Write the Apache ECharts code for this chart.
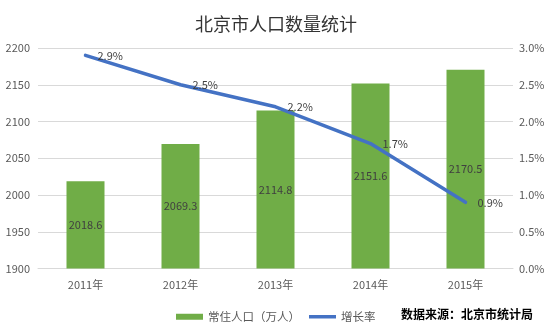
<!DOCTYPE html>
<html>
<head>
<meta charset="utf-8">
<script src="https://cdn.jsdelivr.net/npm/echarts@6/dist/echarts.min.js"></script>
<style>html,body{margin:0;padding:0;background:#fff;}#c{width:552px;height:328px;}</style>
</head>
<body>
<div id="c"></div>
<script>
const categories = ['2011年', '2012年', '2013年', '2014年', '2015年'];
const population = [2018.6, 2069.3, 2114.8, 2151.6, 2170.5];
const growthRate = [2.9, 2.5, 2.2, 1.7, 0.9];
const titleText = '北京市人口数量统计';
const seriesNames = ['常住人口（万人）', '增长率'];
const sourceText = '数据来源：北京市统计局';

const FONT = '"Noto Sans CJK SC", "Noto Sans", sans-serif';
const chart = echarts.init(document.getElementById('c'), null, {renderer: 'canvas'});
chart.setOption({
  animation: false,
  backgroundColor: '#fff',
  textStyle: {fontFamily: FONT},
  title: {
    text: titleText, left: 'center', top: 10,
    textStyle: {fontSize: 18, fontWeight: 'normal', color: '#333', fontFamily: FONT}
  },
  grid: {left: 38, right: 39, top: 48, bottom: 59.5, containLabel: false},
  legend: {
    left: 171, top: 306, itemWidth: 27, itemHeight: 6, itemGap: 9,
    textStyle: {fontSize: 11.5, color: '#595959', fontFamily: FONT},
    data: [
      {name: seriesNames[0], icon: 'rect'},
      {name: seriesNames[1], icon: 'path://M0,0 L27,0 L27,3.5 L0,3.5 Z'}
    ]
  },
  graphic: [{
    type: 'text', left: 401, top: 308,
    style: {text: sourceText, fontSize: 12, fontWeight: 'bold', fill: '#000', fontFamily: FONT}
  }],
  xAxis: {
    type: 'category', data: categories,
    axisLine: {lineStyle: {color: '#d9d9d9'}},
    axisTick: {show: false},
    axisLabel: {color: '#595959', fontSize: 11, margin: 11, fontFamily: FONT}
  },
  yAxis: [{
    type: 'value', min: 1900, max: 2200, interval: 50,
    axisLine: {show: false}, axisTick: {show: false},
    axisLabel: {color: '#595959', fontSize: 11, margin: 8, fontFamily: FONT,
      formatter: v => String(v)},
    splitLine: {lineStyle: {color: '#d9d9d9'}}
  }, {
    type: 'value', min: 0, max: 3, interval: 0.5,
    axisLine: {show: false}, axisTick: {show: false},
    axisLabel: {color: '#595959', fontSize: 11, margin: 6, fontFamily: FONT,
      formatter: v => v.toFixed(1) + '%'},
    splitLine: {show: false}
  }],
  series: [{
    name: seriesNames[0], type: 'bar', data: population, barWidth: '40%',
    itemStyle: {color: '#70ad47'},
    label: {show: true, position: 'inside', color: '#404040', fontSize: 11, fontFamily: FONT}
  }, {
    name: seriesNames[1], type: 'line', yAxisIndex: 1, data: growthRate,
    symbol: 'circle', symbolSize: 0, showSymbol: true, smooth: false,
    lineStyle: {color: '#4472c4', width: 3.5, cap: 'round', join: 'round'},
    itemStyle: {color: '#4472c4'},
    label: {show: true, position: 'right', distance: 12, color: '#404040', fontSize: 11,
      fontFamily: FONT, formatter: p => p.value.toFixed(1) + '%'}
  }]
});
</script>
</body>
</html>
